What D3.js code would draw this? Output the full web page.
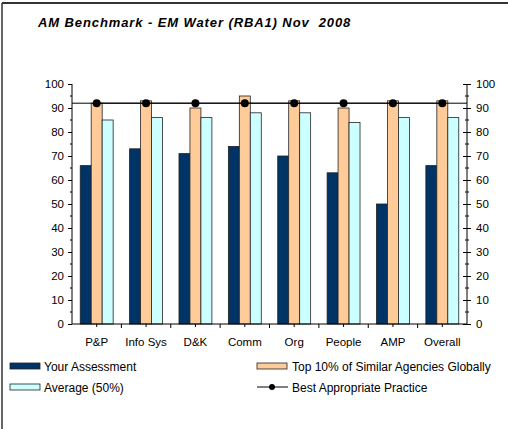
<!DOCTYPE html>
<html>
<head>
<meta charset="utf-8">
<script src="https://cdn.jsdelivr.net/npm/d3@7"></script>
<style>
  body { margin: 0; background: #fff; }
  svg { display: block; font-family: "Liberation Sans", Arial, sans-serif; }
  .tick text { font-size: 11px; fill: #000; }
</style>
</head>
<body>
<div id="chart"></div>
<script>
// chart data
var categories = ["P&P", "Info Sys", "D&K", "Comm", "Org", "People", "AMP", "Overall"];
var yourAssessment = [66, 73, 71, 74, 70, 63, 50, 66];
var top10 = [92, 93, 90, 95, 93, 90, 93, 93];
var average = [85, 86, 86, 88, 88, 84, 86, 86];
var bestPractice = [92, 92, 92, 92, 92, 92, 92, 92];
var yTicks = [0, 10, 20, 30, 40, 50, 60, 70, 80, 90, 100];
var seriesNames = ["Your Assessment", "Top 10% of Similar Agencies Globally", "Average (50%)", "Best Appropriate Practice"];

var width = 508, height = 429;
var margin = {top: 84, right: 41, bottom: 105, left: 72};
var chartWidth = width - margin.left - margin.right;
var chartHeight = height - margin.top - margin.bottom;

var colors = ["#003366", "#FFCC99", "#CCFFFF"];

var svg = d3.select("#chart").append("svg")
    .attr("width", width)
    .attr("height", height);

// frame (top and left only visible)
svg.append("line").attr("x1", 2).attr("x2", width).attr("y1", 3).attr("y2", 3)
    .attr("stroke", "#333").attr("stroke-width", 2);
svg.append("line").attr("x1", 2).attr("x2", 2).attr("y1", 3).attr("y2", height)
    .attr("stroke", "#333").attr("stroke-width", 1.5);

// title
svg.append("text")
    .attr("x", 38).attr("y", 27)
    .style("font-size", "13px")
    .style("font-weight", "bold")
    .style("font-style", "italic")
    .style("letter-spacing", "0.9px")
    .attr("xml:space", "preserve")
    .text("AM Benchmark - EM Water (RBA1) Nov  2008");

var chart = svg.append("g").attr("transform", `translate(${margin.left}, ${margin.top})`);

// each category slot holds 3 bars plus a gap of 150% of a bar width
var x0 = d3.scaleBand().domain(categories).range([0, chartWidth]).paddingInner(0).paddingOuter(0);
var slot = x0.bandwidth();
var barW = slot / 4.5;
var x1 = d3.scaleBand().domain([0, 1, 2]).range([slot / 2 - barW * 1.5, slot / 2 + barW * 1.5]);

var y = d3.scaleLinear().domain([0, 100]).range([chartHeight, 0]);

var rows = categories.map(function(c, i) {
    return {cat: c, vals: [yourAssessment[i], top10[i], average[i]], best: bestPractice[i]};
});

// bars
var groups = chart.selectAll("g.group")
    .data(rows)
    .enter()
    .append("g")
    .attr("class", "group")
    .attr("transform", d => `translate(${x0(d.cat)},0)`);

groups.selectAll("rect")
    .data(d => d.vals)
    .enter()
    .append("rect")
    .attr("x", (d, i) => x1(i))
    .attr("y", d => y(d))
    .attr("width", x1.bandwidth())
    .attr("height", d => chartHeight - y(d))
    .attr("fill", (d, i) => colors[i])
    .attr("stroke", "#222")
    .attr("stroke-width", 0.8);

// left axis
var leftAxis = d3.axisLeft(y).tickValues(yTicks).tickSize(4).tickPadding(4);
var gl = chart.append("g").call(leftAxis);
gl.select(".domain").attr("d", `M0,0V${chartHeight}`);
gl.selectAll("line").attr("stroke", "#000");
gl.selectAll("text").style("font-size", "11.5px");
// minor ticks
gl.selectAll("line.minor")
    .data(d3.range(5, 100, 10))
    .enter()
    .append("line")
    .attr("class", "minor")
    .attr("x1", -2).attr("x2", 0)
    .attr("y1", d => y(d)).attr("y2", d => y(d))
    .attr("stroke", "#000");

// right axis
var rightAxis = d3.axisRight(y).tickValues(yTicks).tickSize(4).tickPadding(5);
var gr = chart.append("g").attr("transform", `translate(${chartWidth},0)`).call(rightAxis);
gr.select(".domain").attr("d", `M0,0V${chartHeight}`);
gr.selectAll(".tick line").attr("x1", -4).attr("stroke", "#000");
gr.selectAll("text").style("font-size", "11.5px");
gr.selectAll("line.minor")
    .data(d3.range(5, 100, 10))
    .enter()
    .append("line")
    .attr("class", "minor")
    .attr("x1", -2).attr("x2", 2)
    .attr("y1", d => y(d)).attr("y2", d => y(d))
    .attr("stroke", "#000");

// bottom axis
var bottomAxis = d3.axisBottom(x0).tickSize(0).tickPadding(14);
var gb = chart.append("g").attr("transform", `translate(0, ${chartHeight})`).call(bottomAxis);
gb.select(".domain").attr("d", `M0,0H${chartWidth}`);
gb.selectAll("text").style("font-size", "11.5px");
gb.selectAll("line.sep")
    .data(categories.slice(1))
    .enter()
    .append("line")
    .attr("class", "sep")
    .attr("x1", d => x0(d)).attr("x2", d => x0(d))
    .attr("y1", 0).attr("y2", 4)
    .attr("stroke", "#000");
gb.selectAll("line.ctr")
    .data(categories)
    .enter()
    .append("line")
    .attr("class", "ctr")
    .attr("x1", d => x0(d) + slot / 2).attr("x2", d => x0(d) + slot / 2)
    .attr("y1", 0).attr("y2", 3)
    .attr("stroke", "#000");

// best practice line
var line = d3.line()
    .x(d => x0(d.cat) + slot / 2)
    .y(d => y(d.best));
chart.append("line")
    .attr("x1", 0).attr("x2", chartWidth)
    .attr("y1", y(bestPractice[0])).attr("y2", y(bestPractice[bestPractice.length - 1]))
    .attr("stroke", "#000");
chart.append("path")
    .datum(rows)
    .attr("d", line)
    .attr("fill", "none")
    .attr("stroke", "#000");
chart.selectAll("circle")
    .data(rows)
    .enter()
    .append("circle")
    .attr("cx", d => x0(d.cat) + slot / 2)
    .attr("cy", d => y(d.best))
    .attr("r", 4)
    .attr("fill", "#000");

// legend
var legendPos = [[10, 366], [257, 366], [10, 387], [257, 387]];
var legend = svg.selectAll("g.legend")
    .data(seriesNames)
    .enter()
    .append("g")
    .attr("class", "legend")
    .attr("transform", (d, i) => `translate(${legendPos[i][0]}, ${legendPos[i][1]})`);

legend.each(function(d, i) {
    var g = d3.select(this);
    if (i < 3) {
        g.append("rect")
            .attr("x", 0).attr("y", -3)
            .attr("width", 30).attr("height", 6)
            .attr("fill", colors[i])
            .attr("stroke", "#222")
            .attr("stroke-width", 0.8);
    } else {
        g.append("line").attr("x1", 0).attr("x2", 31).attr("y1", 0).attr("y2", 0).attr("stroke", "#000");
        g.append("circle").attr("cx", 15).attr("cy", 0).attr("r", 3).attr("fill", "#000");
    }
    g.append("text")
        .attr("x", i % 2 === 0 ? 34 : 35)
        .attr("y", 4.5)
        .style("font-size", "12px")
        .text(d);
});
</script>
</body>
</html>
